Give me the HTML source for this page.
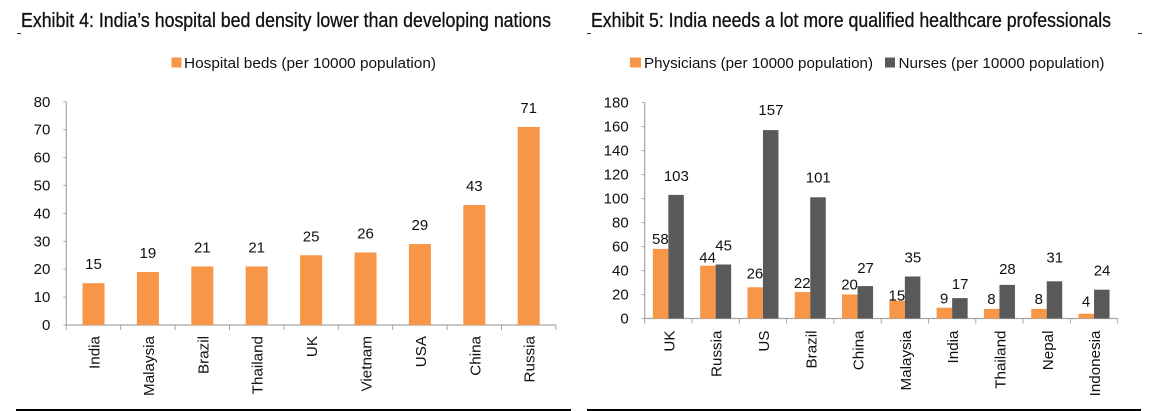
<!DOCTYPE html>
<html lang="en">
<head>
<meta charset="utf-8">
<title>Exhibits 4 and 5</title>
<style>
html,body{margin:0;padding:0;background:#fff;width:1161px;height:411px;overflow:hidden}
svg{display:block}
text{font-family:"Liberation Sans",sans-serif;fill:#111}
.title{stroke:#111;stroke-width:.3px}
</style>
</head>
<body>
<svg id="root" xmlns="http://www.w3.org/2000/svg" width="1161" height="411" viewBox="0 0 1161 411">
  <text class="title" x="21" y="27" font-size="20" textLength="530" lengthAdjust="spacingAndGlyphs">Exhibit 4: India’s hospital bed density lower than developing nations</text>
  <text class="title" x="591" y="27" font-size="20" textLength="520" lengthAdjust="spacingAndGlyphs">Exhibit 5: India needs a lot more qualified healthcare professionals</text>
  <rect x="17" y="33" width="4" height="1" fill="#333"/>
  <rect x="587" y="33" width="4" height="1" fill="#333"/>
  <rect x="1138" y="33" width="4" height="1" fill="#333"/>
  <rect x="171.5" y="57.5" width="10" height="10" fill="#F79646"/>
  <text x="184" y="68" font-size="15" textLength="252" lengthAdjust="spacingAndGlyphs">Hospital beds (per 10000 population)</text>
  <rect x="630" y="57.5" width="11" height="10" fill="#F79646"/>
  <text x="644" y="68" font-size="15" textLength="229" lengthAdjust="spacingAndGlyphs">Physicians (per 10000 population)</text>
  <rect x="885" y="57.5" width="10" height="10" fill="#595959"/>
  <text x="898.5" y="68" font-size="15" textLength="206" lengthAdjust="spacingAndGlyphs">Nurses (per 10000 population)</text>
  <g id="chart-left"></g>
  <g id="chart-right"></g>
  <rect x="16" y="409" width="555" height="2" fill="#000"/>
  <rect x="587" y="409" width="554" height="2" fill="#000"/>
</svg>
<script>
const bedCategories = ["India","Malaysia","Brazil","Thailand","UK","Vietnam","USA","China","Russia"];
const bedValues = [15,19,21,21,25,26,29,43,71];
const bedTicks = [0,10,20,30,40,50,60,70,80];

const staffCategories = ["UK","Russia","US","Brazil","China","Malaysia","India","Thailand","Nepal","Indonesia"];
const physicianValues = [58,44,26,22,20,15,9,8,8,4];
const nurseValues = [103,45,157,101,27,35,17,28,31,24];
const staffTicks = [0,20,40,60,80,100,120,140,160,180];

const NS = "http://www.w3.org/2000/svg";
const ORANGE = "#F79646", GREY = "#595959", AXIS = "#a6a6a6";

function make(parent, tag, attrs, text) {
  const el = document.createElementNS(NS, tag);
  for (const k in attrs) el.setAttribute(k, attrs[k]);
  if (text !== undefined) el.textContent = text;
  parent.appendChild(el);
  return el;
}

function drawAxes(g, cfg, cats, ticks) {
  const yAxis = make(g, "line", {x1: cfg.x0, x2: cfg.x0, y1: cfg.yScale(ticks[ticks.length - 1]), y2: cfg.y0, stroke: AXIS, "stroke-width": 1.2});
  
  
  const xAxis = make(g, "line", {x1: cfg.x0, x2: cfg.x0 + cfg.band * cats.length, y1: cfg.y0, y2: cfg.y0, stroke: AXIS, "stroke-width": 1.2});
  
  
  ticks.forEach(function (t) {
    const y = cfg.yScale(t);
    const tick = make(g, "line", {x1: cfg.x0 - 3, x2: cfg.x0, y1: y, y2: y, stroke: AXIS, "stroke-width": 1});
    
    
    const lab = make(g, "text", {x: cfg.x0 - 16, y: y + 5, "font-size": 15, "text-anchor": "end"}, t);
    
    
  });
  for (let i = 0; i <= cats.length; i++) {
    const x = cfg.x0 + cfg.band * i;
    const tick = make(g, "line", {x1: x, x2: x, y1: cfg.y0, y2: cfg.y0 + 5, stroke: AXIS, "stroke-width": 1});
    
    
  }
  cats.forEach(function (c, i) {
    const x = cfg.x0 + cfg.band * (i + 0.5) + 6;
    const y = cfg.y0 + cfg.labelGap;
    const lab = make(g, "text", {x: x, y: y, "font-size": 15.2, "text-anchor": "end", transform: "rotate(-90 " + x + " " + y + ")"}, c);
    
    
  });
}

function drawBar(g, cfg, x, w, value, fill) {
  const top = cfg.yScale(value);
  const bar = make(g, "rect", {x: x, y: top, width: w, height: cfg.y0 - top, fill: fill});
  
  
  return top;
}

function drawValue(g, x, y, value) {
  const lab = make(g, "text", {x: x, y: y, "font-size": 15, "text-anchor": "middle"}, value);
  
  
}

/* Left chart */
const leftCfg = {x0: 66.3, y0: 325, band: 54.4, labelGap: 11, yScale: function (v) { return 325 - v * 2.79; }};
const leftG = document.getElementById("chart-left");
drawAxes(leftG, leftCfg, bedCategories, bedTicks);
bedValues.forEach(function (v, i) {
  const cx = leftCfg.x0 + leftCfg.band * (i + 0.5);
  const top = drawBar(leftG, leftCfg, cx - 11, 22, v, ORANGE);
  drawValue(leftG, cx, top - 14, v);
});

/* Right chart */
const rightCfg = {x0: 644.7, y0: 318.5, band: 47.3, labelGap: 12, yScale: function (v) { return 318.5 - v * 1.2; }};
const rightG = document.getElementById("chart-right");
drawAxes(rightG, rightCfg, staffCategories, staffTicks);
/* Label lift above each bar top, as placed by hand in the reference */
const physicianLift = [5,3,9,4,5,0,4,5,5,7];
const nurseLift = [14,14,15,15,13,14,9,11,19,14];
staffCategories.forEach(function (c, i) {
  const cx = rightCfg.x0 + rightCfg.band * (i + 0.5);
  const pTop = drawBar(rightG, rightCfg, cx - 15.5, 15.5, physicianValues[i], ORANGE);
  const nTop = drawBar(rightG, rightCfg, cx, 15.5, nurseValues[i], GREY);
  drawValue(rightG, cx - 8, pTop - physicianLift[i], physicianValues[i]);
  drawValue(rightG, cx + 8, nTop - nurseLift[i], nurseValues[i]);
});
</script>
</body>
</html>
